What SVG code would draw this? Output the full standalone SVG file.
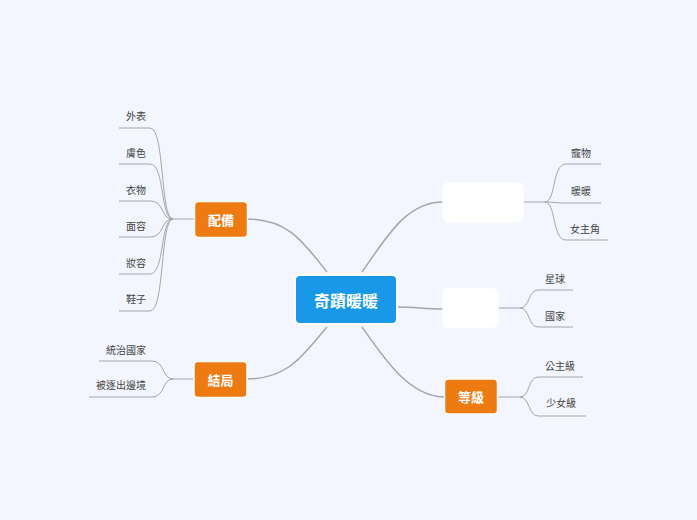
<svg xmlns="http://www.w3.org/2000/svg" width="697" height="520" viewBox="0 0 697 520">
<style>
.bg{fill:#F3F6FE}
.main{fill:none;stroke:#A5A5AC;stroke-width:1.5}
.leaf{fill:none;stroke:#A5A5AC;stroke-width:1}
.orange{fill:#EE7A12;stroke:#fff;stroke-width:1.5}
.blank{fill:#fff;stroke:#fff;stroke-width:1.5}
.center{fill:#1A98E8;stroke:#fff;stroke-width:2}
.t{font-family:"Noto Sans CJK TC","Noto Sans CJK SC",sans-serif;text-anchor:middle;dominant-baseline:central}
.wt{fill:#fff;font-size:13px;font-weight:bold}
.ct{fill:#fff;font-size:16px;font-weight:bold}
.lt{fill:#444;font-size:10px}
</style>
<rect class="bg" width="697" height="520"/>
<g id="connectors">
<path class="main" d="M247,219 C290,219 305,245 327,272"/>
<path class="main" d="M247,379 C290,379 305,352 327,327"/>
<path class="main" d="M362,272 C385,240 405,202 443,202"/>
<path class="main" d="M397,307 C415,307 425,309 443,309"/>
<path class="main" d="M362,327 C385,360 410,397 445,397"/>
<path class="leaf" d="M195,219 L173,219"/>
<path class="leaf" d="M173,219 C160,219 165,128 150,128 L119,128"/>
<path class="leaf" d="M173,219 C160,219 165,164 150,164 L119,164"/>
<path class="leaf" d="M173,219 C160,219 165,201 150,201 L119,201"/>
<path class="leaf" d="M173,219 C160,219 165,237 150,237 L119,237"/>
<path class="leaf" d="M173,219 C160,219 165,274 150,274 L119,274"/>
<path class="leaf" d="M173,219 C160,219 165,311 150,311 L119,311"/>
<path class="leaf" d="M194,379 L173,379"/>
<path class="leaf" d="M173,379 C162,379 165,361 152,361 L99,361"/>
<path class="leaf" d="M173,379 C162,379 165,397 152,397 L89,397"/>
<path class="leaf" d="M523,202 L545,202"/>
<path class="leaf" d="M545,202 C556,202 552,164 566,164 L601,164"/>
<path class="leaf" d="M545,202 C552,202 555,203 566,203 L601,203"/>
<path class="leaf" d="M545,202 C556,202 552,240 566,240 L608,240"/>
<path class="leaf" d="M498,308 L520,308"/>
<path class="leaf" d="M520,308 C530,308 528,290 538,290 L573,290"/>
<path class="leaf" d="M520,308 C530,308 528,327 538,327 L573,327"/>
<path class="leaf" d="M497,397 L520,397"/>
<path class="leaf" d="M520,397 C530,397 528,377 538,377 L583,377"/>
<path class="leaf" d="M520,397 C530,397 528,416 538,416 L586,416"/>
</g>
<g id="center"><rect class="center" x="295" y="275" width="102" height="49" rx="5"/><text class="t ct" x="346" y="299.5">奇蹟暖暖</text></g>
<g id="peibei"><rect class="orange" x="194.5" y="201.5" width="53" height="36" rx="4"/><text class="t wt" x="221" y="219.5">配備</text></g>
<g id="jieju"><rect class="orange" x="194" y="361.5" width="53" height="36" rx="4"/><text class="t wt" x="220.5" y="379.5">結局</text></g>
<g id="blank1"><rect class="blank" x="443" y="183" width="80" height="39" rx="6"/></g>
<g id="blank2"><rect class="blank" x="443" y="289" width="55" height="38" rx="6"/></g>
<g id="dengji"><rect class="orange" x="444.5" y="379" width="53" height="35" rx="4"/><text class="t wt" x="471" y="396.5">等級</text></g>
<g id="leaves">
<text class="t lt" x="136" y="115">外表</text>
<text class="t lt" x="136" y="152">膚色</text>
<text class="t lt" x="136" y="189">衣物</text>
<text class="t lt" x="136" y="225">面容</text>
<text class="t lt" x="136" y="262">妝容</text>
<text class="t lt" x="136" y="298">鞋子</text>
<text class="t lt" x="126" y="349">統治國家</text>
<text class="t lt" x="121" y="384">被逐出邊境</text>
<text class="t lt" x="581" y="152">寵物</text>
<text class="t lt" x="581" y="190">暖暖</text>
<text class="t lt" x="585" y="228">女主角</text>
<text class="t lt" x="555" y="278">星球</text>
<text class="t lt" x="555" y="315">國家</text>
<text class="t lt" x="560" y="365">公主級</text>
<text class="t lt" x="561" y="402">少女級</text>
</g>
</svg>
